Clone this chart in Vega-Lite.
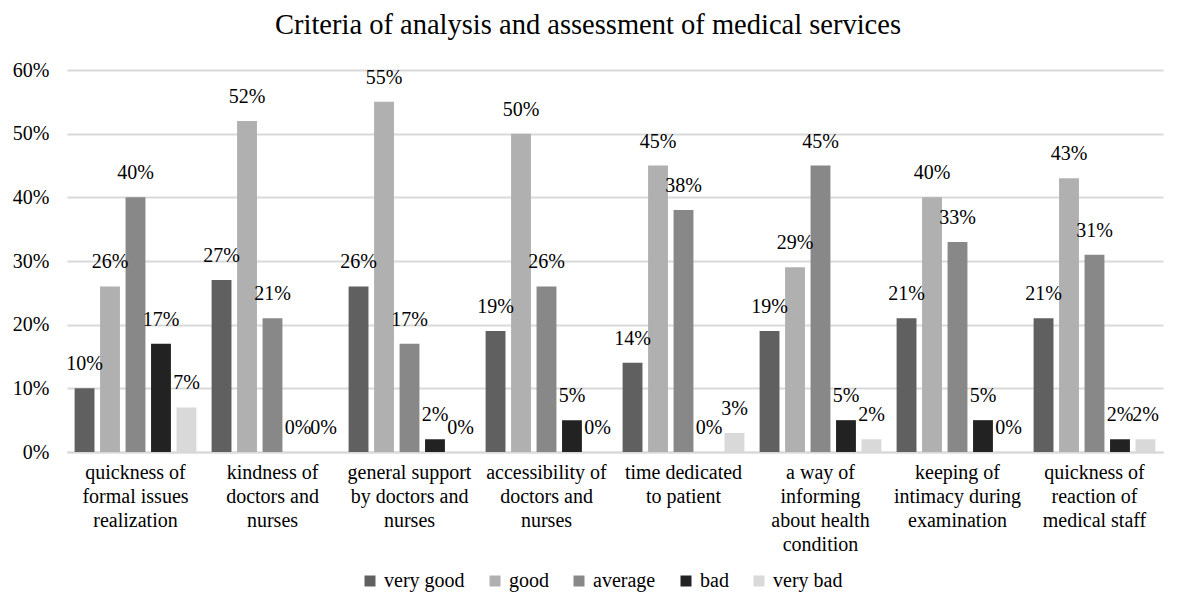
{
  "$schema": "https://vega.github.io/schema/vega-lite/v6.json",
  "autosize": {"type": "none"},
  "width": 1096,
  "height": 382,
  "padding": {"left": 67, "top": 70, "right": 14, "bottom": 160},
  "background": "white",
  "title": {
    "text": "Criteria of analysis and assessment of medical services",
    "font": "Times New Roman, Liberation Serif, serif",
    "fontSize": 28.5,
    "fontWeight": "normal",
    "color": "#000000",
    "anchor": "middle",
    "dx": -27,
    "offset": 21
  },
  "config": {
    "view": {"stroke": null},
    "font": "Times New Roman, Liberation Serif, serif",
    "text": {"font": "Times New Roman, Liberation Serif, serif"},
    "axis": {"labelFont": "Times New Roman, Liberation Serif, serif", "labelColor": "#000000", "labelFontSize": 20},
    "legend": {"labelFont": "Times New Roman, Liberation Serif, serif", "labelColor": "#000000", "labelFontSize": 20}
  },
  "data": {
    "values": [
      {"criterion": "quickness of|formal issues|realization", "rating": "very good", "share": 0.10},
      {"criterion": "quickness of|formal issues|realization", "rating": "good", "share": 0.26},
      {"criterion": "quickness of|formal issues|realization", "rating": "average", "share": 0.40},
      {"criterion": "quickness of|formal issues|realization", "rating": "bad", "share": 0.17},
      {"criterion": "quickness of|formal issues|realization", "rating": "very bad", "share": 0.07},
      {"criterion": "kindness of|doctors and|nurses", "rating": "very good", "share": 0.27},
      {"criterion": "kindness of|doctors and|nurses", "rating": "good", "share": 0.52},
      {"criterion": "kindness of|doctors and|nurses", "rating": "average", "share": 0.21},
      {"criterion": "kindness of|doctors and|nurses", "rating": "bad", "share": 0.0},
      {"criterion": "kindness of|doctors and|nurses", "rating": "very bad", "share": 0.0},
      {"criterion": "general support|by doctors and|nurses", "rating": "very good", "share": 0.26},
      {"criterion": "general support|by doctors and|nurses", "rating": "good", "share": 0.55},
      {"criterion": "general support|by doctors and|nurses", "rating": "average", "share": 0.17},
      {"criterion": "general support|by doctors and|nurses", "rating": "bad", "share": 0.02},
      {"criterion": "general support|by doctors and|nurses", "rating": "very bad", "share": 0.0},
      {"criterion": "accessibility of|doctors and|nurses", "rating": "very good", "share": 0.19},
      {"criterion": "accessibility of|doctors and|nurses", "rating": "good", "share": 0.50},
      {"criterion": "accessibility of|doctors and|nurses", "rating": "average", "share": 0.26},
      {"criterion": "accessibility of|doctors and|nurses", "rating": "bad", "share": 0.05},
      {"criterion": "accessibility of|doctors and|nurses", "rating": "very bad", "share": 0.0},
      {"criterion": "time dedicated|to patient", "rating": "very good", "share": 0.14},
      {"criterion": "time dedicated|to patient", "rating": "good", "share": 0.45},
      {"criterion": "time dedicated|to patient", "rating": "average", "share": 0.38},
      {"criterion": "time dedicated|to patient", "rating": "bad", "share": 0.0},
      {"criterion": "time dedicated|to patient", "rating": "very bad", "share": 0.03},
      {"criterion": "a way of|informing|about health|condition", "rating": "very good", "share": 0.19},
      {"criterion": "a way of|informing|about health|condition", "rating": "good", "share": 0.29},
      {"criterion": "a way of|informing|about health|condition", "rating": "average", "share": 0.45},
      {"criterion": "a way of|informing|about health|condition", "rating": "bad", "share": 0.05},
      {"criterion": "a way of|informing|about health|condition", "rating": "very bad", "share": 0.02},
      {"criterion": "keeping of|intimacy during|examination", "rating": "very good", "share": 0.21},
      {"criterion": "keeping of|intimacy during|examination", "rating": "good", "share": 0.40},
      {"criterion": "keeping of|intimacy during|examination", "rating": "average", "share": 0.33},
      {"criterion": "keeping of|intimacy during|examination", "rating": "bad", "share": 0.05},
      {"criterion": "keeping of|intimacy during|examination", "rating": "very bad", "share": 0.0},
      {"criterion": "quickness of|reaction of|medical staff", "rating": "very good", "share": 0.21},
      {"criterion": "quickness of|reaction of|medical staff", "rating": "good", "share": 0.43},
      {"criterion": "quickness of|reaction of|medical staff", "rating": "average", "share": 0.31},
      {"criterion": "quickness of|reaction of|medical staff", "rating": "bad", "share": 0.02},
      {"criterion": "quickness of|reaction of|medical staff", "rating": "very bad", "share": 0.02}
    ]
  },
  "encoding": {
    "x": {
      "field": "criterion",
      "type": "nominal",
      "sort": null,
      "scale": {"paddingInner": 0.07, "paddingOuter": 0.035},
      "axis": {
        "title": null,
        "labelAngle": 0,
        "labelFont": "Times New Roman, Liberation Serif, serif",
        "labelFontSize": 20,
        "labelExpr": "split(datum.label, '|')",
        "labelLimit": 0,
        "labelLineHeight": 24,
        "labelPadding": 10,
        "labelBaseline": "top",
        "ticks": false,
        "domainColor": "#d9d9d9",
        "domainWidth": 2,
        "grid": false
      }
    },
    "xOffset": {
      "field": "rating",
      "type": "nominal",
      "sort": ["very good", "good", "average", "bad", "very bad"],
      "scale": {"paddingInner": 0.22, "paddingOuter": 0.11}
    },
    "y": {
      "field": "share",
      "type": "quantitative",
      "scale": {"domain": [0, 0.6]},
      "axis": {
        "title": null,
        "format": ".0%",
        "values": [0, 0.1, 0.2, 0.3, 0.4, 0.5, 0.6],
        "labelOverlap": false,
        "labelFont": "Times New Roman, Liberation Serif, serif",
        "labelFontSize": 20,
        "domain": false,
        "ticks": false,
        "labelPadding": 18,
        "gridColor": "#d9d9d9",
        "gridWidth": 2
      }
    }
  },
  "layer": [
    {
      "mark": {"type": "bar"},
      "encoding": {
        "color": {
          "field": "rating",
          "type": "nominal",
          "sort": ["very good", "good", "average", "bad", "very bad"],
          "scale": {
            "domain": ["very good", "good", "average", "bad", "very bad"],
            "range": ["#606060", "#b0b0b0", "#888888", "#222222", "#d9d9d9"]
          },
          "legend": {
            "title": null,
            "orient": "none",
            "legendX": 293,
            "legendY": 501,
            "direction": "horizontal",
            "labelFont": "Times New Roman, Liberation Serif, serif",
            "labelFontSize": 20,
            "symbolType": "square",
            "symbolSize": 121,
            "symbolStrokeWidth": 0,
            "labelOffset": 4,
            "columnPadding": 20
          }
        }
      }
    },
    {
      "mark": {"type": "text", "baseline": "alphabetic", "dy": -18, "fontSize": 20, "font": "Times New Roman, Liberation Serif, serif", "color": "#000000"},
      "encoding": {
        "text": {"field": "share", "type": "quantitative", "format": ".0%"}
      }
    }
  ]
}
